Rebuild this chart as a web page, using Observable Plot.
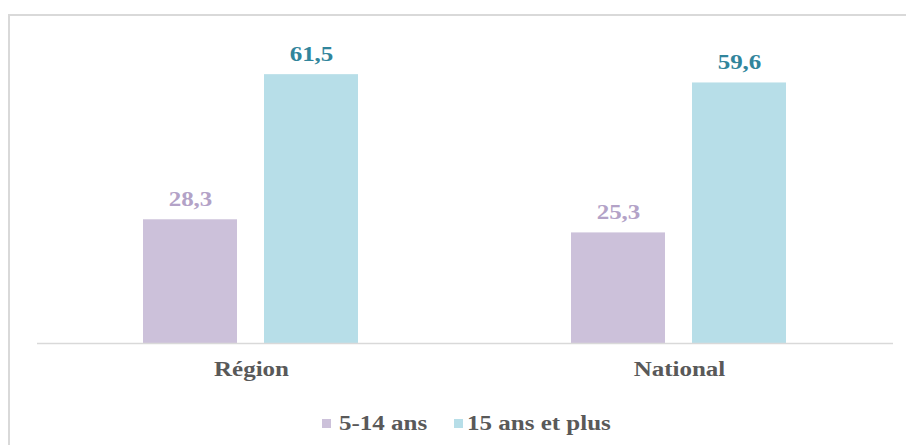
<!DOCTYPE html>
<html>
<head>
<meta charset="utf-8">
<script src="https://cdn.jsdelivr.net/npm/d3@7"></script>
<script src="https://cdn.jsdelivr.net/npm/@observablehq/plot@0.6"></script>
<style>
  html, body { margin: 0; padding: 0; background: #fff; overflow: hidden; width: 906px; height: 445px; }
  #frame { position: absolute; left: 8px; top: 14px; width: 898px; height: 431px; border-left: 2px solid #d9d9d9; border-top: 2px solid #d9d9d9; box-sizing: border-box; }
  #chart { position: absolute; left: 0; top: 0; }
  #legend { position: absolute; left: 0; top: 400px; width: 906px; height: 45px; font-family: "Liberation Serif", "Times New Roman", serif; font-weight: bold; font-size: 20px; color: #595959; }
  .sw { position: absolute; top: 19px; width: 9px; height: 9px; }
  .lt { position: absolute; top: 11px; line-height: 24px; white-space: nowrap; transform: scaleX(1.25); transform-origin: left center; }
</style>
</head>
<body>
<div id="frame"></div>
<div id="chart"></div>
<div id="legend"></div>
<script>
const categories = ["Région", "National"];
const series = ["5-14 ans", "15 ans et plus"];
const values514 = [28.3, 25.3];
const values15plus = [61.5, 59.6];
const barColors = ["#ccc1da", "#b7dee8"];
const labelColors = ["#b3a2c7", "#31859c"];

const data = [];
categories.forEach((c, i) => {
  data.push({category: c, series: series[0], value: values514[i]});
  data.push({category: c, series: series[1], value: values15plus[i]});
});
const fmt = d => d.value.toFixed(1).replace(".", ",");

const chart = Plot.plot({
  width: 906,
  height: 400,
  marginLeft: 36,
  marginRight: 13,
  marginTop: 37,
  marginBottom: 57,
  fx: {domain: categories, padding: 0, axis: null},
  x: {domain: series, paddingInner: 0.221, paddingOuter: 0.866, axis: null},
  y: {domain: [0, 70], axis: null},
  color: {domain: series, range: barColors},
  style: {fontFamily: "'Liberation Serif', 'Times New Roman', serif", fontWeight: "bold", fontSize: "20px", background: "transparent"},
  marks: [
    Plot.barY(data, {fx: "category", x: "series", y: "value", fill: "series"}),
    Plot.ruleY([0], {stroke: "#d9d9d9", strokeWidth: 1.5}),
    Plot.text(data.filter(d => d.series === series[0]), {fx: "category", x: "series", y: "value", text: fmt, fill: labelColors[0], dy: -20, fontSize: 20, fontWeight: "bold"}),
    Plot.text(data.filter(d => d.series === series[1]), {fx: "category", x: "series", y: "value", text: fmt, fill: labelColors[1], dy: -20, fontSize: 20, fontWeight: "bold"}),
    Plot.text(categories, {fx: d => d, text: d => d, frameAnchor: "bottom", dy: 32, fill: "#595959", fontSize: 20, fontWeight: "bold"})
  ]
});
chart.querySelectorAll("text").forEach(t => {
  const tr = t.getAttribute("transform") || "";
  t.setAttribute("transform", (tr + " scale(1.25,1)").trim());
});
document.getElementById("chart").appendChild(chart);

const legend = document.getElementById("legend");
const legendPos = [[322, 339], [454, 467]];
series.forEach((s, i) => {
  const sw = document.createElement("div");
  sw.className = "sw";
  sw.style.left = legendPos[i][0] + "px";
  sw.style.background = barColors[i];
  legend.appendChild(sw);
  const t = document.createElement("div");
  t.className = "lt";
  t.style.left = legendPos[i][1] + "px";
  t.textContent = s;
  legend.appendChild(t);
});
</script>
</body>
</html>
